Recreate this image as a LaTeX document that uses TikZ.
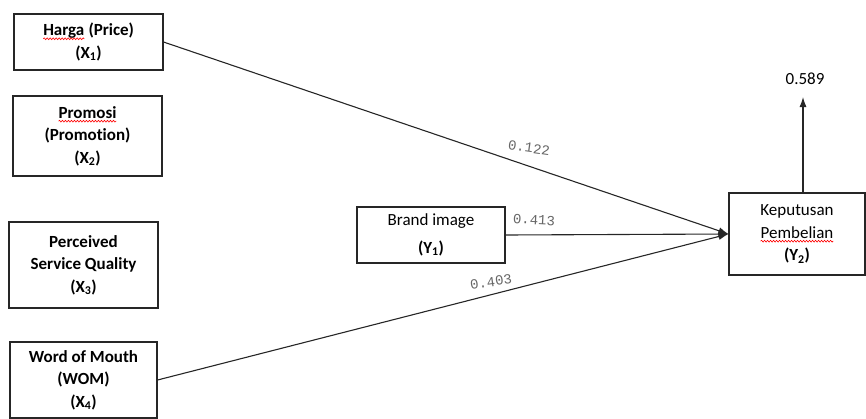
\documentclass[tikz,border=0pt]{standalone}
\usepackage{fontspec}
\setmainfont{Carlito}[Ligatures=NoCommon]
\newfontfamily\coeffont{Liberation Mono}
\usepackage{tikz}
\usetikzlibrary{arrows.meta,decorations.pathmorphing}
\newcommand\redwave[1]{\tikz[baseline=(w.base)]{\node[draw=none,fill=none,inner sep=0pt,outer sep=0pt,minimum width=0pt,minimum height=0pt] (w) {#1};
  \draw[red,line width=0.6pt,decorate,decoration={snake,amplitude=0.9pt,segment length=3pt}] ([yshift=-3pt]w.base west)--([yshift=-3pt]w.base east);}}
\tikzstyle{var}=[rectangle,draw=black!85,line width=1.1pt,fill=white,text=black,align=center,inner sep=0pt,font=\fontsize{17}{22.5}\selectfont]
\tikzstyle{varB}=[var,font=\fontsize{17}{22.5}\selectfont\bfseries]
\tikzstyle{coef}=[text=black!60,font=\coeffont\fontsize{14}{16}\selectfont]
\tikzstyle{effect}=[-{Latex[length=10pt,width=7pt]},draw=black!85,line width=1.1pt]

\begin{document}
\begin{tikzpicture}[x=1pt,y=-1pt]
  \useasboundingbox (0,0) rectangle (866,418);
  \node[varB,minimum width=149,minimum height=56] (X1) at (88.5,42) {\redwave{Harga} (Price)\\(X\textsubscript{1})};
  \node[varB,minimum width=149,minimum height=80] (X2) at (87.5,136) {\redwave{Promosi}\\(Promotion)\\(X\textsubscript{2})};
  \node[varB,minimum width=149,minimum height=86] (X3) at (83.5,265) {Perceived\\Service Quality\\(X\textsubscript{3})};
  \node[varB,minimum width=147,minimum height=76] (X4) at (83.5,380) {Word of Mouth\\(WOM)\\(X\textsubscript{4})};
  \node[var,minimum width=148,minimum height=56] (Y1) at (431,235) {Brand image\\[5pt]\textbf{(Y\textsubscript{1})}};
  \node[var,minimum width=136,minimum height=82] (Y2) at (797,234) {Keputusan\\\redwave{Pembelian}\\\textbf{(Y\textsubscript{2})}};
  \coordinate (R) at (803,97);
  \node[font=\fontsize{17}{20}\selectfont] (R2) at (805,79) {0.589};

  \draw[effect] (X1.east)--(Y2.west); \draw[effect] (Y1.east)--(Y2.west); \draw[effect] (X4.east)--(Y2.west);
  \draw[effect] (Y2.north -| R)--(R);
  \node[coef,rotate=-8] (b1) at (529,148) {0.122};
  \node[coef,rotate=-3] (b2) at (534,220) {0.413};
  \node[coef,rotate=8] (b3) at (491,282) {0.403};
\end{tikzpicture}
\end{document}
